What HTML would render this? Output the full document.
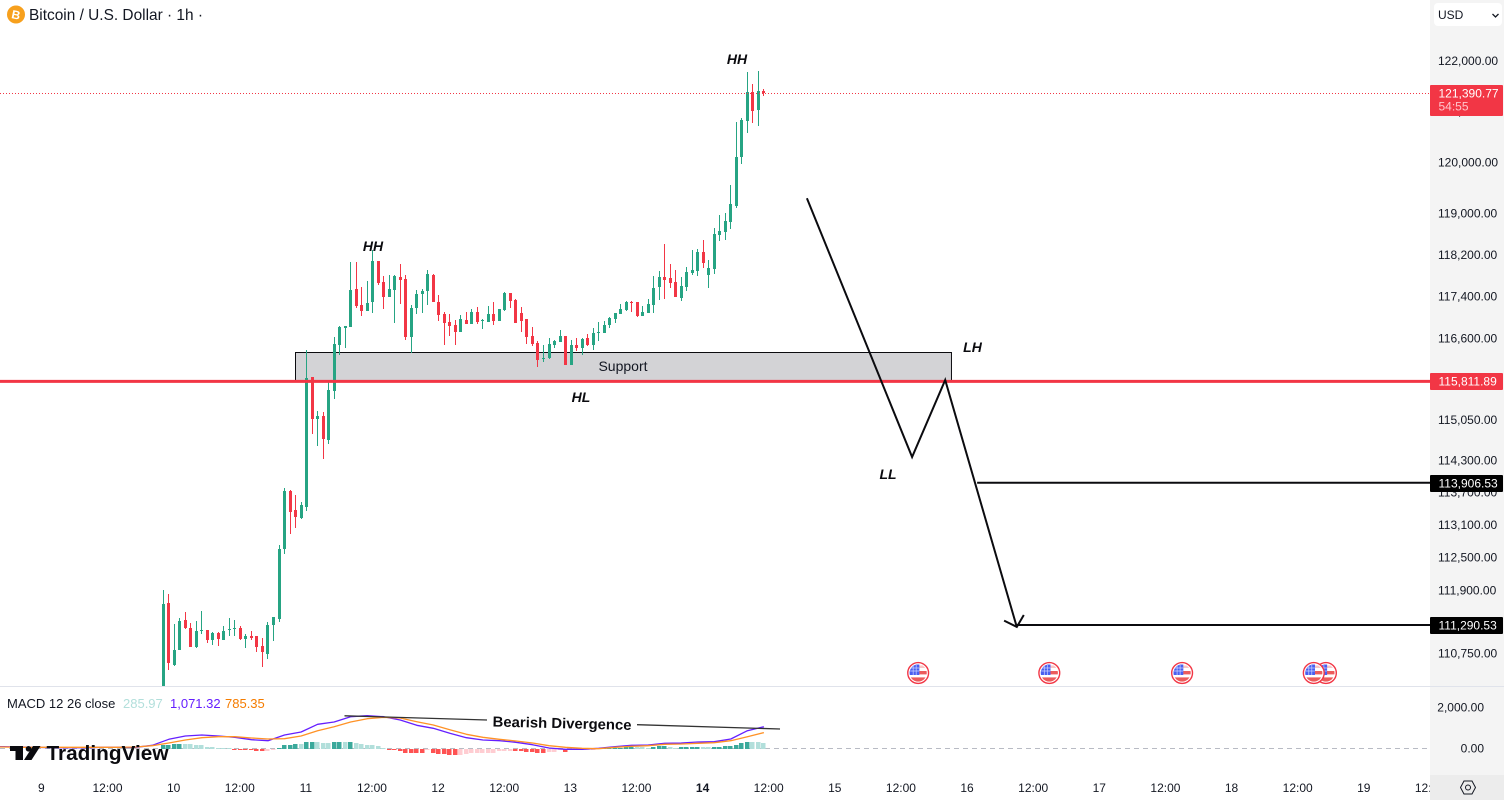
<!DOCTYPE html>
<html lang="en">
<head>
<meta charset="utf-8">
<title>Bitcoin / U.S. Dollar 1h chart</title>
<style>
html,body{margin:0;padding:0;background:#fff;width:1504px;height:800px;overflow:hidden}
svg{display:block;font-family:"Liberation Sans",sans-serif}
</style>
</head>
<body>
<svg id="chart" xmlns="http://www.w3.org/2000/svg" width="1504" height="800" viewBox="0 0 1504 800">
  <defs>
    <clipPath id="paneClip"><rect x="0" y="0" width="1430" height="686"/></clipPath>
    <clipPath id="timeClip"><rect x="0" y="774" width="1430" height="26"/></clipPath>
  </defs>
  <rect x="0" y="0" width="1504" height="800" fill="#ffffff"/>
  <rect x="1430" y="0" width="74" height="775" fill="#f4f4f4"/>
  <rect x="0" y="686" width="1504" height="1" fill="#e0e3eb"/>
  <line x1="0" x2="1430" y1="748.5" y2="748.5" stroke="#b8bbc4" stroke-width="1" stroke-dasharray="5 4"/>
  <g id="histLayer" shape-rendering="crispEdges"></g>
  <g id="macdLayer"></g>
  <g>
    <path d="M10 746H23V760H15.500V751H10Z" fill="#0b0b0f"/>
    <circle cx="28.500" cy="748.800" r="2.800" fill="#0b0b0f"/>
    <path d="M33 746H40.500L31.500 760H24Z" fill="#0b0b0f"/>
    <text x="46.500" y="760" font-size="20.500" font-weight="700" fill="#0b0b0f" textLength="122" lengthAdjust="spacingAndGlyphs">TradingView</text>
  </g>
  <g id="zoneLayer"></g>
  <g id="candleLayer" clip-path="url(#paneClip)" shape-rendering="crispEdges"></g>
  <g id="levelLayer"></g>
  <g id="zigzagLayer"></g>
  <g id="eventLayer"></g>
  <text x="373" y="251" text-anchor="middle" font-size="14" font-weight="700" font-style="italic" fill="#0b0b0f">HH</text>
  <text x="737" y="64" text-anchor="middle" font-size="14" font-weight="700" font-style="italic" fill="#0b0b0f">HH</text>
  <text x="581" y="402" text-anchor="middle" font-size="14" font-weight="700" font-style="italic" fill="#0b0b0f">HL</text>
  <text x="972.500" y="352" text-anchor="middle" font-size="14" font-weight="700" font-style="italic" fill="#0b0b0f">LH</text>
  <text x="888" y="479" text-anchor="middle" font-size="14" font-weight="700" font-style="italic" fill="#0b0b0f">LL</text>
  <text x="623" y="371" text-anchor="middle" font-size="14" fill="#131722">Support</text>

  <g>
    <circle cx="16" cy="14.500" r="9" fill="#f7a01d"/>
    <text x="16" y="19" text-anchor="middle" font-size="12" font-weight="700" fill="#ffffff" transform="rotate(12 16 14.500)">B</text>
    <text x="29" y="20" font-size="16" fill="#131722" textLength="174" lengthAdjust="spacingAndGlyphs">Bitcoin / U.S. Dollar · 1h ·</text>
  </g>

  <g>
    <text x="7" y="708" font-size="13" fill="#131722">MACD 12 26 close</text>
    <text x="123" y="708" font-size="13" fill="#b2dfdb">285.97</text>
    <text x="170" y="708" font-size="13" fill="#651fff">1,071.32</text>
    <text x="225" y="708" font-size="13" fill="#f57c00">785.35</text>
  </g>

  <g>
    <line x1="344.500" y1="715.800" x2="487" y2="720" stroke="#333" stroke-width="1.300"/>
    <line x1="637" y1="724.700" x2="780" y2="729" stroke="#333" stroke-width="1.300"/>
    <text x="492.500" y="726.500" font-size="14.500" font-weight="700" fill="#0b0b0f" textLength="139" lengthAdjust="spacingAndGlyphs" transform="rotate(1.400 492.500 726.500)">Bearish Divergence</text>
  </g>

  <g id="priceTickLayer"></g>
  <g id="macdTickLayer"></g>
  <g id="tagLayer"></g>
  <g id="timeLayer" clip-path="url(#timeClip)"></g>

  <g>
    <rect x="1434" y="3" width="68" height="23" rx="4" fill="#ffffff"/>
    <text x="1438" y="19" font-size="12" fill="#131722">USD</text>
    <path d="M1492.500 14L1495.500 17L1498.500 14" fill="none" stroke="#131722" stroke-width="1.300"/>
  </g>

  <g>
    <rect x="1430" y="775" width="74" height="25" fill="#ececec"/>
    <path d="M1464 781H1472L1475.500 787.500L1472 794H1464L1460.500 787.500Z" fill="none" stroke="#131722" stroke-width="1"/>
    <circle cx="1468" cy="787.500" r="2.500" fill="none" stroke="#131722" stroke-width="1"/>
  </g>
</svg>

<script>
const opens = [110116,111691,110567,110837,111382,111237,110892,111182,111200,111019,
111146,111019,111200,111218,111237,111037,111091,111091,110910,110765,
111291,111400,112679,113752,113400,113252,113456,115891,115098,115155,
114704,115625,116497,116830,116841,117568,117261,117146,117318,118106,
117702,117414,117548,117798,117760,116650,117203,117471,117529,117837,
117318,117089,116936,116879,116745,116974,116898,117127,116955,116936,
117089,116955,117165,117491,117356,117108,116994,116669,116536,116231,
116250,116497,116555,116669,116118,116497,116440,116631,116497,116735,
116726,116879,116994,117089,117165,117318,117318,117051,117108,117261,
117606,117798,117779,117702,117394,117606,117875,117914,118280,117837,
117952,118609,118667,118861,119172,120128,120837,121411,121055,121431];
const highs = [111928,111855,111309,111418,111527,111327,111364,111545,111200,111164,
111164,111273,111418,111382,111273,111128,111182,111091,111055,111345,
111436,112753,113808,113771,113678,113548,116402,115891,115248,115230,
115796,116650,116860,116860,118087,118087,117606,117721,118318,118106,
117818,117837,117837,118049,117837,117261,117548,117568,117933,117856,
117452,117127,117089,116974,117070,117127,117184,117222,116994,117242,
117318,117184,117510,117491,117375,117222,116994,116841,116574,116497,
116631,116593,116784,116669,116593,116631,116631,116707,116822,116936,
116955,117032,117108,117280,117337,117337,117318,117242,117375,117818,
117914,118434,118049,117933,117798,117991,118318,118337,118512,118126,
118745,118997,119036,119581,120818,120897,121809,121570,121829,121471];
const lows = [110116,110477,110549,110837,111218,110892,110873,111128,110964,110928,
110910,111019,111091,111091,111019,110873,111019,110801,110531,110675,
111000,111345,112588,112957,113068,113234,113382,114816,114591,114348,
114629,115474,116307,116440,116841,117203,117051,117146,117108,117644,
117184,117414,116917,117280,116593,116345,117089,117108,117261,117318,
116955,116497,116669,116497,116745,116898,116898,116898,116803,116936,
116879,116955,117146,117203,116917,116745,116517,116478,116080,116174,
116231,116440,116555,116118,116118,116383,116307,116478,116402,116574,
116726,116822,116917,117089,117146,117127,117032,117051,117108,117108,
117356,117375,117587,117414,117337,117529,117837,117818,117972,117587,
117856,118493,118512,118725,119133,119991,120601,120798,120739,121332];
const closes = [111672,110603,110837,111364,111237,110892,111182,111200,111019,111146,
111037,111182,111218,111237,111037,111091,111055,110892,110801,111291,
111436,112679,113752,113363,113271,113493,115872,115098,115155,114723,
115644,116517,116841,116850,117548,117242,117146,117299,118106,117683,
117414,117568,117818,117741,116650,117203,117471,117529,117856,117318,
117070,116917,116860,116745,116994,116898,117127,116936,116974,117089,
116955,117184,117491,117337,116917,116955,116650,116517,116212,116250,
116517,116574,116669,116118,116497,116440,116612,116497,116726,116745,
116879,117013,117108,117184,117318,117305,117051,117127,117280,117587,
117798,117741,117683,117414,117625,117895,117933,118280,118068,117972,
118628,118687,118881,119210,120128,120857,121411,121035,121431,121390.77];

const macdValues = [99,99,83,67,50,50,50,67,67,67,164,457,620,668,620,554,441,392,668,815,1189,1302,1563,1611,1563,1400,
1140,994,750,538,424,392,311,197,34,-31,-31,18,99,164,180,262,278,327,343,473,880,1071.32];
const signalValues = [83,83,67,67,67,67,67,67,67,83,148,278,424,538,587,587,522,473,489,620,880,1075,1302,1465,1530,1498,
1319,1156,928,701,554,457,376,278,148,67,18,2,67,115,148,213,229,262,294,392,587,785.35];
const histValues = [163,195,228,244,228,211,195,179,98,81,49,33,16,-33,-49,-57,-81,-114,-122,-98,-65,33,163,195,244,228,325,335,325,293,
276,320,335,309,341,293,228,195,179,114,33,-49,-65,-98,-195,-211,-215,-220,-81,-195,-244,-250,-293,-309,-293,-260,-228,-215,-211,-208,
-205,-130,-114,-98,-114,-130,-146,-163,-195,-211,-163,-146,-65,-163,-81,-49,-33,-16,-5,10,16,33,40,49,65,81,65,60,55,98,
130,146,65,49,81,90,98,105,81,65,81,98,130,146,179,260,345,335,325,285.97];

const priceTicks = [122000,121000,120000,119000,118200,117400,116600,115050,114300,113700,113100,112500,111900,110750];
const macdTicks = [2000,0];
const timeLabels = ["9","12:00","10","12:00","11","12:00","12","12:00","13","12:00","14","12:00","15","12:00","16","12:00","17","12:00","18","12:00","19","12:00"];
const priceTagPrices = [113906.53,111290.53];
const lastPrice = 121390.77;
const supportPrice = 115811.89;
const countdownLabel = "54:55";
const zoneBars = [24,143.05];
const zonePrices = [116355,115811.89];
const zigzagBars = [116.8,135.9,141.9,154.9];
const zigzagPrices = [119323,114386,115834,111255];
const levelStartBars = [147.7,154.9];
const eventBars = [211,208.8,184.9,160.8,137];

const NS = 'http://www.w3.org/2000/svg';
function make(tag, attrs, parent, text){
  const el = document.createElementNS(NS, tag);
  for (const k in attrs) el.setAttribute(k, attrs[k]);
  if (text !== undefined) el.textContent = text;
  parent.appendChild(el);
  return el;
}
function yOf(price){ return 93 + 6124 * Math.log(lastPrice / price); }
function xOf(bar){ return 163.3 + 5.51 * bar; }
function macdY(value){ return 748.7 - value * 0.0205; }
function fmt(value){ return value.toLocaleString('en-US',{minimumFractionDigits:2,maximumFractionDigits:2}); }
const GREEN = '#26a483', RED = '#f23645';
const layer = id => document.getElementById(id);

/* MACD histogram */
histValues.forEach((v,i)=>{
  const prev = i>0 ? histValues[i-1] : 0;
  const color = v>=0 ? (v>prev ? '#3aa99b' : '#b2dfdb') : (v<prev ? '#ff5252' : '#ffcdd2');
  const top = Math.round(Math.min(macdY(v),macdY(0)));
  const bottom = Math.round(Math.max(macdY(v),macdY(0)));
  const bar = make('rect',{x:Math.floor(xOf(i))-2,y:top,width:4.5,height:Math.max(1,bottom-top),fill:color},layer('histLayer'));
  
  
});

/* MACD + signal lines: one sample every three bars, starting at bar -32 */
function linePoints(values){
  return values.map((v,i)=>xOf(-32+3*i).toFixed(1)+','+macdY(v).toFixed(1)).join(' ');
}
const macdLine = make('polyline',{points:linePoints(macdValues),fill:'none',stroke:'#651fff','stroke-width':1.3,'stroke-linejoin':'round'},layer('macdLayer'));


const signalLine = make('polyline',{points:linePoints(signalValues),fill:'none',stroke:'#ff9226','stroke-width':1.3,'stroke-linejoin':'round'},layer('macdLayer'));



/* support zone */
const zone = make('rect',{x:Math.floor(xOf(zoneBars[0]))+0.5,y:Math.round(yOf(zonePrices[0]))+0.5,width:xOf(zoneBars[1])-xOf(zoneBars[0]),height:yOf(zonePrices[1])-yOf(zonePrices[0]),fill:'#d3d3d6',stroke:'#0b0b0f','stroke-width':1},layer('zoneLayer'));



/* candles */
opens.forEach((o,i)=>{
  const c = closes[i], color = c>=o ? GREEN : RED;
  const left = Math.floor(xOf(i));
  const wTop = Math.round(yOf(highs[i])), wBot = Math.round(yOf(lows[i]));
  const bTop = Math.round(yOf(Math.max(o,c))), bBot = Math.round(yOf(Math.min(o,c)));
  const wick = make('rect',{x:left,y:wTop,width:1,height:Math.max(1,wBot-wTop),fill:color},layer('candleLayer'));
  
  
  const body = make('rect',{x:left-1,y:bTop,width:3,height:Math.max(1,bBot-bTop),fill:color},layer('candleLayer'));
  
  
});

/* price lines */
const lastLine = make('line',{x1:0,x2:1430,y1:yOf(lastPrice)+0.5,y2:yOf(lastPrice)+0.5,stroke:RED,'stroke-width':1,'stroke-dasharray':'1 2'},layer('levelLayer'));


const supportLine = make('line',{x1:0,x2:1430,y1:yOf(supportPrice)+0.3,y2:yOf(supportPrice)+0.3,stroke:RED,'stroke-width':3},layer('levelLayer'));


priceTagPrices.forEach((p,i)=>{
  const lv = make('line',{x1:xOf(levelStartBars[i]),x2:1430,y1:yOf(p),y2:yOf(p),stroke:'#0b0b0f','stroke-width':2},layer('levelLayer'));
  
  
});

/* zigzag projection with arrow */
const zzPts = zigzagBars.map((b,i)=>[xOf(b),yOf(zigzagPrices[i])]);
const zz = make('polyline',{points:zzPts.map(p=>p[0].toFixed(1)+','+p[1].toFixed(1)).join(' '),fill:'none',stroke:'#0b0b0f','stroke-width':2,'stroke-linejoin':'miter'},layer('zigzagLayer'));


const tip = zzPts[zzPts.length-1];
const head = make('polyline',{points:(tip[0]-12.7)+','+(tip[1]-6.3)+' '+tip[0]+','+tip[1]+' '+(tip[0]+7)+','+(tip[1]-12),fill:'none',stroke:'#0b0b0f','stroke-width':2},layer('zigzagLayer'));



/* US economic event markers */
eventBars.forEach((b,i)=>{
  const cx = xOf(b), cy = 673;
  const g = make('g',{},layer('eventLayer'));
  
  
  const clipId = 'flagClip'+i;
  const clip = make('clipPath',{id:clipId},g);
  make('circle',{cx:cx,cy:cy,r:8.6},clip);
  make('circle',{cx:cx,cy:cy,r:10.4,fill:'#ffffff',stroke:RED,'stroke-width':1.4},g);
  const f = make('g',{'clip-path':'url(#'+clipId+')'},g);
  make('rect',{x:cx-9,y:cy-9,width:18,height:18,fill:'#ffffff'},f);
  make('rect',{x:cx+1,y:cy-7.500,width:9,height:2.5,fill:'#f7c6c6'},f);
  make('rect',{x:cx+1,y:cy-2,width:9,height:3.4,fill:'#ec5b5b'},f);
  make('rect',{x:cx-9,y:cy+4.4,width:18,height:4.5,fill:'#ec5b5b'},f);
  make('rect',{x:cx-9,y:cy-8.500,width:10.2,height:10.5,fill:'#4a5ff0'},f);
  make('path',{d:'M'+(cx-8)+' '+(cy-5)+'H'+(cx+1)+'M'+(cx-8)+' '+(cy-2)+'H'+(cx+1)+'M'+(cx-5)+' '+(cy-8)+'V'+(cy+2)+'M'+(cx-2)+' '+(cy-8)+'V'+(cy+2),stroke:'#c9d1ff','stroke-width':0.7,fill:'none'},f);
});

/* axes */
priceTicks.forEach(p=>{
  const t = make('text',{x:1438,y:yOf(p)+2.7,'font-size':12,fill:'#131722'},layer('priceTickLayer'),fmt(p));
  
  
});
macdTicks.forEach(v=>{
  const t = make('text',{x:1484,y:macdY(v)+3.6,'font-size':12,fill:'#131722','text-anchor':'end'},layer('macdTickLayer'),fmt(v));
  
  
});
timeLabels.forEach((s,i)=>{
  const bar = -22 + 12*i;
  const isBold = s === '14';
  const t = make('text',{x:xOf(bar)-0.7,y:792,'font-size':12,fill:'#131722','text-anchor':'middle','font-weight':isBold?700:400},layer('timeLayer'),s);
  
  
});

/* price tags */
function tag(price,fill,name){
  const y = yOf(price);
  const box = make('rect',{x:1430,y:Math.round(y)-8,width:73,height:17,fill:fill,rx:1},layer('tagLayer'));
  
  
  const t = make('text',{x:1438.5,y:Math.round(y)+4.5,'font-size':12,fill:'#ffffff'},layer('tagLayer'),fmt(price));
  
  
}
priceTagPrices.forEach(p=>tag(p,'#000000','target-price-tag'));
tag(supportPrice,RED,'support-price-tag');

const ly = Math.round(yOf(lastPrice));
const lastBox = make('rect',{x:1430,y:ly-8,width:73,height:31,fill:RED,rx:1},layer('tagLayer'));


const lastText = make('text',{x:1438.5,y:ly+4.5,'font-size':12,fill:'#ffffff'},layer('tagLayer'),fmt(lastPrice));


const cdText = make('text',{x:1438.5,y:ly+17.5,'font-size':12,fill:'#ffc4cb'},layer('tagLayer'),countdownLabel);


</script>
</body>
</html>
